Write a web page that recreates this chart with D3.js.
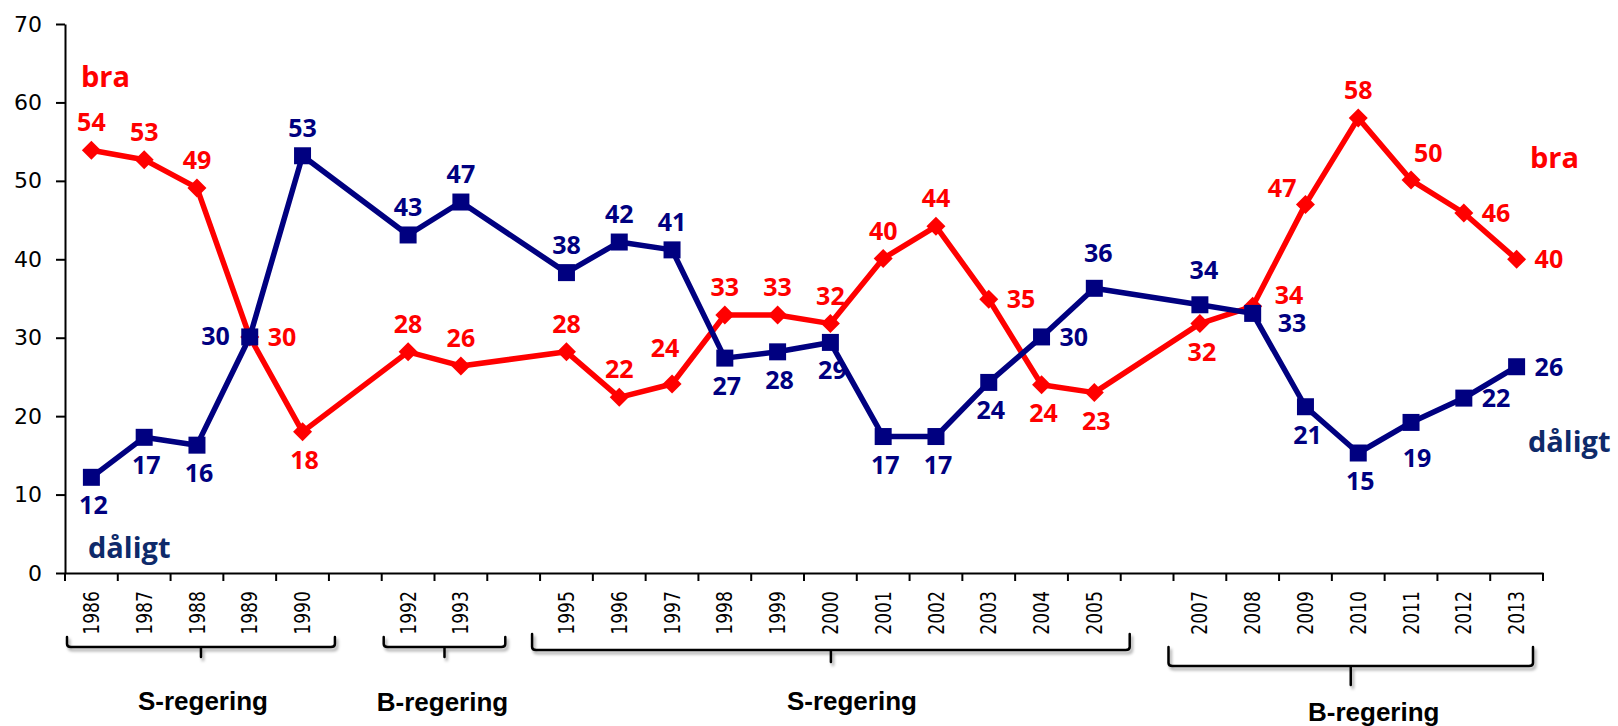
<!DOCTYPE html>
<html><head><meta charset="utf-8">
<script src="https://cdn.jsdelivr.net/npm/d3@7"></script>
<style>body{margin:0;background:#fff;overflow:hidden} svg{display:block}</style>
</head><body><svg id="chart" width="1618" height="726"></svg>
<script>
// ---- data ----
const slots = ["1986","1987","1988","1989","1990","1991","1992","1993","1994","1995","1996","1997","1998","1999","2000","2001","2002","2003","2004","2005","2006","2007","2008","2009","2010","2011","2012","2013"];
const years = ["1986","1987","1988","1989","1990","1992","1993","1995","1996","1997","1998","1999","2000","2001","2002","2003","2004","2005","2007","2008","2009","2010","2011","2012","2013"];
const braValues    = [53.9,52.7,49.1,30.1,18.0,28.2,26.4,28.2,22.4,24.1,32.9,32.9,31.8,40.1,44.2,34.9,24.0,23.0,31.8,34.0,47.0,58.0,50.1,45.9,40.0];
const daligtValues = [12.2,17.3,16.3,30.1,53.2,43.1,47.3,38.3,42.2,41.2,27.4,28.2,29.4,17.4,17.4,24.3,30.1,36.3,34.2,33.1,21.2,15.3,19.2,22.3,26.3];
const braLabels    = [54,53,49,30,18,28,26,28,22,24,33,33,32,40,44,35,24,23,32,34,47,58,50,46,40];
const daligtLabels = [12,17,16,30,53,43,47,38,42,41,27,28,29,17,17,24,30,36,34,33,21,15,19,22,26];
const yTicks = [0,10,20,30,40,50,60,70];
const seriesNames = ["bra","dåligt"];
const govLabels = ["S-regering","B-regering","S-regering","B-regering"];
const govStart  = ["1986","1992","1995","2007"];
const govEnd    = ["1990","1993","2005","2013"];

// ---- label placement codes (style, not data) ----
const braPlace    = ["t","t","t","r","b","t","t","t","t","tl","t","t","t","t","t","r","b","b","b","ru","lu","t","tr","r","r"];
const daligtPlace = ["b","b","b","l","t","t","t","t","t","t","b","b","b","b","b","b","r","t2","t2","rd","b","b","b2","r","r"];
const offsets = {
  t:[0,-19,"middle"], t2:[4,-26,"middle"], tl:[-7,-27,"middle"], tr:[3,-18,"start"],
  b:[2,37,"middle"], b2:[6,45,"middle"],
  l:[-20,8,"end"], lu:[-9,-7,"end"],
  r:[18,9,"start"], ru:[22,-2,"start"], rd:[25,19,"start"]
};
const bracketLayout = [
  {top:637,h:647,nub:657,label:710,x0:2,x1:6,lx:2},
  {top:637,h:647,nub:657,label:711,x0:2,x1:18,lx:-2},
  {top:634,h:650,nub:662,label:710,x0:-8,x1:9,lx:21},
  {top:647,h:666,nub:685,label:721,x0:-5,x1:-10,lx:23}
];

const RED = "#ff0000", NAVY = "#000080";
const svg = d3.select("#chart");
const x = d3.scaleBand().domain(slots).range([65, 1543]).paddingInner(0).paddingOuter(0);
const y = d3.scaleLinear().domain([0, 70]).range([573, 24]);
const cx = d => x(d) + x.bandwidth() / 2;

const defs = svg.append("defs");
const f = defs.append("filter").attr("id","shadow").attr("x","-10%").attr("y","-50%").attr("width","120%").attr("height","200%");
f.append("feDropShadow").attr("dx",2).attr("dy",3).attr("stdDeviation",1.8).attr("flood-color","#000").attr("flood-opacity",0.35);

// y axis
const yAxis = svg.append("g").attr("transform","translate(65,0)")
  .call(d3.axisLeft(y).tickValues(yTicks).tickSize(9).tickPadding(14).tickSizeOuter(0));
yAxis.select(".domain").attr("stroke","#000").attr("stroke-width",2);
yAxis.selectAll(".tick line").attr("stroke","#000").attr("stroke-width",2);
yAxis.selectAll(".tick text").attr("font-family","DejaVu Sans").attr("font-size",22).attr("fill","#000");

// x axis
const xAxis = svg.append("g").attr("transform","translate(0,573)")
  .call(d3.axisBottom(x).tickSize(0).tickFormat(""));
xAxis.select(".domain").attr("stroke","#000").attr("stroke-width",2);
xAxis.selectAll(".tick").remove();
const bounds = slots.map(s => x(s)).concat([x(slots[slots.length-1]) + x.bandwidth()]);
xAxis.selectAll("line.bt").data(bounds).enter().append("line")
  .attr("x1", d => d).attr("x2", d => d).attr("y1", 0).attr("y2", 8)
  .attr("stroke","#000").attr("stroke-width",2);
svg.append("g").selectAll("text").data(years).enter().append("text")
  .attr("transform", d => `translate(${cx(d)},591) rotate(-90) scale(0.82,1)`)
  .attr("text-anchor","end").attr("dy","0.36em")
  .attr("font-family","DejaVu Sans").attr("font-size",21).attr("fill","#000")
  .text(d => d);

// lines
const series = [
  {vals: braValues, labels: braLabels, place: braPlace, color: RED, marker: "diamond"},
  {vals: daligtValues, labels: daligtLabels, place: daligtPlace, color: NAVY, marker: "square"}
];
const line = d3.line().x(d => cx(d.year)).y(d => y(d.v));
series.forEach(s => {
  const pts = years.map((yr, i) => ({year: yr, v: s.vals[i], lab: s.labels[i], p: s.place[i]}));
  const g = svg.append("g");
  g.append("path").datum(pts).attr("d", line).attr("fill","none")
    .attr("stroke", s.color).attr("stroke-width", 5.5).attr("stroke-linejoin","round");
  const m = g.selectAll("path.m").data(pts).enter().append("path").attr("class","m")
    .attr("transform", d => `translate(${cx(d.year)},${y(d.v)})`)
    .attr("fill", s.color);
  if (s.marker === "diamond") m.attr("d","M0,-9.5L9.5,0L0,9.5L-9.5,0Z");
  else m.attr("d","M-8.5,-8.5H8.5V8.5H-8.5Z");
  g.selectAll("text").data(pts).enter().append("text")
    .attr("x", d => cx(d.year) + offsets[d.p][0])
    .attr("y", d => y(d.v) + offsets[d.p][1])
    .attr("text-anchor", d => offsets[d.p][2])
    .attr("font-family","Open Sans").attr("font-weight","bold").attr("font-size",25)
    .attr("fill", s.color).text(d => d.lab);
});

// series name labels
const nameStyle = sel => sel.attr("font-family","Open Sans").attr("font-weight","bold").attr("font-size",29);
svg.append("text").attr("x",81).attr("y",87).text(seriesNames[0]).attr("fill",RED).call(nameStyle);
svg.append("text").attr("x",1530).attr("y",168).text(seriesNames[0]).attr("fill",RED).call(nameStyle);
svg.append("text").attr("x",88).attr("y",558).text(seriesNames[1]).attr("fill","#0e2a6a").call(nameStyle);
svg.append("text").attr("x",1528).attr("y",452).text(seriesNames[1]).attr("fill","#0e2a6a").call(nameStyle);

// government brackets
const bg = svg.append("g");
govLabels.forEach((lab, i) => {
  const L = bracketLayout[i];
  const x0 = x(govStart[i]) + L.x0;
  const x1 = x(govEnd[i]) + x.bandwidth() + L.x1;
  const xm = (x0 + x1) / 2;
  bg.append("path")
    .attr("d", `M${x0},${L.top}V${L.h - 3}Q${x0},${L.h} ${x0 + 4},${L.h}H${x1 - 4}Q${x1},${L.h} ${x1},${L.h - 3}V${L.top}M${xm},${L.h}V${L.nub}`)
    .attr("fill","none").attr("stroke","#000").attr("stroke-width",2.5)
    .attr("stroke-linecap","round").attr("filter","url(#shadow)");
  bg.append("text").attr("x", xm + L.lx).attr("y", L.label).attr("text-anchor","middle")
    .attr("font-family","Liberation Sans").attr("font-weight","bold").attr("font-size",26)
    .attr("fill","#000").text(lab);
});
</script>
</body></html>
